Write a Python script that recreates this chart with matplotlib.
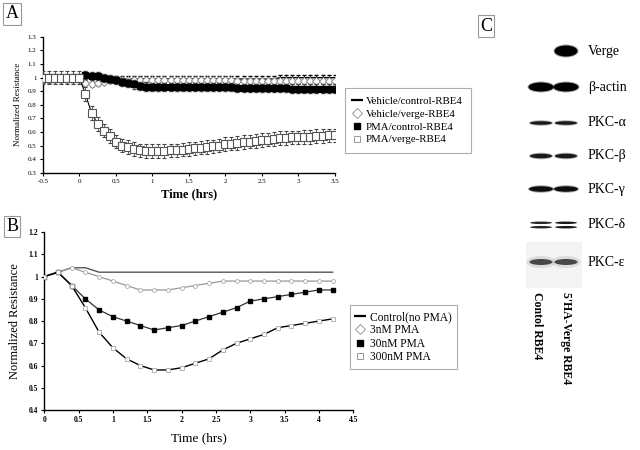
import numpy as np
import matplotlib.pyplot as plt
from matplotlib.lines import Line2D
from matplotlib.patches import Ellipse, Rectangle

plt.rcParams['font.family'] = ['Liberation Serif', 'DejaVu Serif']

# ---- panel A: TEER time course (5 min steps, -0.5 .. 3.5 h)
tA = np.arange(-6, 43) / 12.0
veh_ctrl = [1.00, 1.00, 1.00, 1.00, 1.00, 1.00, 1.00,
            1.00, 0.99, 0.99, 0.99, 0.99, 0.99, 0.99, 0.99, 0.99, 0.99,
            0.99, 0.99, 0.99, 0.99, 0.99, 0.99, 0.99, 0.99, 0.99, 0.99,
            0.99, 0.99, 0.99, 0.99, 0.99, 0.99, 0.99, 0.99, 0.99, 0.99,
            0.99, 0.99, 1.00, 1.00, 1.00, 1.00, 1.00, 1.00, 1.00, 1.00,
            1.00, 1.00]
veh_verge = [0.98, 0.98, 0.99, 0.99, 0.99, 0.99, 0.99,
             0.96, 0.95, 0.96, 0.97, 0.98, 0.98, 0.98, 0.98, 0.98, 0.98,
             0.98, 0.98, 0.98, 0.98, 0.98, 0.98, 0.98, 0.98, 0.98, 0.98,
             0.98, 0.98, 0.98, 0.98, 0.98, 0.975, 0.975, 0.975, 0.975, 0.975,
             0.975, 0.975, 0.975, 0.975, 0.975, 0.975, 0.975, 0.975, 0.975, 0.975,
             0.975, 0.975]
pma_ctrl = [1.00, 1.00, 1.00, 1.00, 1.00, 1.00, 1.00,
            1.02, 1.015, 1.01, 1.00, 0.99, 0.98, 0.97, 0.96, 0.95, 0.94,
            0.935, 0.93, 0.93, 0.93, 0.93, 0.93, 0.93, 0.93, 0.93, 0.93,
            0.93, 0.93, 0.93, 0.93, 0.93, 0.925, 0.925, 0.925, 0.925, 0.925,
            0.925, 0.925, 0.925, 0.925, 0.92, 0.92, 0.92, 0.92, 0.92, 0.92,
            0.92, 0.92]
pma_verge = [1.00, 1.00, 1.00, 1.00, 1.00, 1.00, 1.00,
             0.88, 0.74, 0.66, 0.61, 0.57, 0.53, 0.50, 0.49, 0.475, 0.465,
             0.46, 0.46, 0.46, 0.46, 0.465, 0.465, 0.47, 0.475, 0.48, 0.485,
             0.49, 0.495, 0.50, 0.51, 0.515, 0.52, 0.525, 0.53, 0.535, 0.54,
             0.545, 0.55, 0.555, 0.555, 0.56, 0.56, 0.565, 0.565, 0.57, 0.57,
             0.575, 0.575]
err_veh_ctrl = 0.02
err_veh_verge = 0.02
err_pma_ctrl = 0.03
err_pma_verge = 0.05

# ---- panel B: PMA dose response (0 .. 4.2 h)
tB = [0, 0.2, 0.4, 0.6, 0.8, 1.0, 1.2, 1.4, 1.6, 1.8, 2.0,
      2.2, 2.4, 2.6, 2.8, 3.0, 3.2, 3.4, 3.6, 3.8, 4.0, 4.2]
no_pma = [1.00, 1.02, 1.04, 1.04, 1.02, 1.02, 1.02, 1.02, 1.02, 1.02, 1.02,
          1.02, 1.02, 1.02, 1.02, 1.02, 1.02, 1.02, 1.02, 1.02, 1.02, 1.02]
pma_3nm = [1.00, 1.02, 1.04, 1.02, 1.00, 0.98, 0.96, 0.94, 0.94, 0.94, 0.95,
           0.96, 0.97, 0.98, 0.98, 0.98, 0.98, 0.98, 0.98, 0.98, 0.98, 0.98]
pma_30nm = [1.00, 1.02, 0.96, 0.90, 0.85, 0.82, 0.80, 0.78, 0.76, 0.77, 0.78,
            0.80, 0.82, 0.84, 0.86, 0.89, 0.90, 0.91, 0.92, 0.93, 0.94, 0.94]
pma_300nm = [1.00, 1.02, 0.96, 0.86, 0.75, 0.68, 0.63, 0.60, 0.58, 0.58, 0.59,
             0.61, 0.63, 0.67, 0.70, 0.72, 0.74, 0.77, 0.78, 0.79, 0.80, 0.81]

# ---- panel C: western blot
blot_labels = ['Verge', 'β-actin', 'PKC-α', 'PKC-β', 'PKC-γ', 'PKC-δ', 'PKC-ε']
lane_ctrl = [0.0, 1.0, 0.9, 0.9, 0.95, 0.85, 0.75]
lane_verge = [1.0, 1.0, 0.9, 0.9, 0.95, 0.9, 0.75]
lane_names = ['Contol RBE4', "5'HA-Verge RBE4"]

fig = plt.figure(figsize=(6.4, 4.5), dpi=100)

def box_letter(x, y, s):
    fig.text(x, y, s, fontsize=13, ha='center', va='center',
             bbox=dict(boxstyle='square,pad=0.12', fc='white', ec='#999999', lw=0.8))

def style_axes(ax, size, bold=False):
    for s in ['top', 'right']:
        ax.spines[s].set_visible(False)
    for s in ['left', 'bottom']:
        ax.spines[s].set_linewidth(1.0)
    ax.tick_params(direction='out', length=2.5, width=0.8, labelsize=size, pad=2)
    if bold:
        for lab in ax.get_xticklabels() + ax.get_yticklabels():
            lab.set_fontweight('bold')

# Panel A
axA = fig.add_axes([0.067, 0.616, 0.456, 0.302])
axA.errorbar(tA, veh_ctrl, yerr=err_veh_ctrl, color='black', lw=1.0,
             elinewidth=0.6, capsize=1.5, zorder=2)
axA.errorbar(tA, veh_verge, yerr=err_veh_verge, color='#888888', lw=0.6, ls='none',
             marker='D', ms=4.5, mfc='white', mec='#888888', mew=0.7,
             elinewidth=0.6, ecolor='#777777', capsize=1.5, zorder=3)
axA.errorbar(tA, pma_ctrl, yerr=err_pma_ctrl, color='black', lw=0.8,
             marker='s', ms=4.5, mfc='black', mec='black',
             elinewidth=0.6, ecolor='#444444', capsize=1.5, zorder=4)
axA.errorbar(tA, pma_verge, yerr=err_pma_verge, color='black', lw=0.8,
             marker='s', ms=5.5, mfc='white', mec='#555555', mew=0.8,
             elinewidth=0.6, ecolor='#444444', capsize=1.5, zorder=4)
axA.set_xlim(-0.5, 3.5)
axA.set_ylim(0.3, 1.3)
axA.set_xticks(np.arange(-0.5, 3.51, 0.5))
axA.set_xticklabels(['-0.5', '0', '0.5', '1', '1.5', '2', '2.5', '3', '3.5'])
axA.set_yticks(np.arange(0.3, 1.31, 0.1))
axA.set_yticklabels(['0.3', '0.4', '0.5', '0.6', '0.7', '0.8', '0.9', '1', '1.1', '1.2', '1.3'])
style_axes(axA, 5)
axA.set_xlabel('Time (hrs)', fontsize=9, fontweight='bold', labelpad=3)
axA.set_ylabel('Normalized Resistance', fontsize=6.5, labelpad=4)

hA = [Line2D([], [], color='black', marker='_', ls='none', ms=8, mew=1.6),
      Line2D([], [], marker='D', ls='none', ms=5, mfc='white', mec='#999999', mew=0.7),
      Line2D([], [], marker='s', ls='none', ms=4.5, mfc='black', mec='black'),
      Line2D([], [], marker='s', ls='none', ms=5, mfc='white', mec='#999999', mew=0.7)]
legA = fig.legend(hA, ['Vehicle/control-RBE4', 'Vehicle/verge-RBE4',
                       'PMA/control-RBE4', 'PMA/verge-RBE4'],
                  loc='upper left', bbox_to_anchor=(0.539, 0.804), fontsize=7.8,
                  fancybox=False, edgecolor='#999999', handlelength=0.8,
                  handletextpad=0.4, borderpad=0.75, labelspacing=0.3,
                  borderaxespad=0)
legA.get_frame().set_linewidth(0.8)

# Panel B
axB = fig.add_axes([0.069, 0.089, 0.483, 0.395])
axB.plot(tB, no_pma, color='#555555', lw=1.0, zorder=2)
axB.plot(tB, pma_3nm, color='#999999', lw=0.9, marker='o', ms=2.8,
         mfc='white', mec='#aaaaaa', mew=0.6, zorder=3)
axB.plot(tB, pma_30nm, color='#333333', lw=0.9, marker='s', ms=3.2,
         mfc='black', mec='black', zorder=4)
axB.plot(tB, pma_300nm, color='black', lw=1.0, marker='s', ms=2.8,
         mfc='white', mec='#aaaaaa', mew=0.6, zorder=4)
axB.set_xlim(0, 4.5)
axB.set_ylim(0.4, 1.2)
axB.set_xticks(np.arange(0, 4.51, 0.5))
axB.set_xticklabels(['0', '0.5', '1', '1.5', '2', '2.5', '3', '3.5', '4', '4.5'])
axB.set_yticks(np.arange(0.4, 1.21, 0.1))
axB.set_yticklabels(['0.4', '0.5', '0.6', '0.7', '0.8', '0.9', '1', '1.1', '1.2'])
style_axes(axB, 5.5, bold=True)
axB.set_xlabel('Time (hrs)', fontsize=9.5, labelpad=6)
axB.set_ylabel('Normalized Resistance', fontsize=9, labelpad=5)

hB = [Line2D([], [], color='black', marker='_', ls='none', ms=8, mew=1.6),
      Line2D([], [], marker='D', ls='none', ms=5, mfc='white', mec='#999999', mew=0.7),
      Line2D([], [], marker='s', ls='none', ms=4.5, mfc='black', mec='black'),
      Line2D([], [], marker='s', ls='none', ms=5, mfc='white', mec='#999999', mew=0.7)]
legB = fig.legend(hB, ['Control(no PMA)', '3nM PMA', '30nM PMA', '300nM PMA'],
                  loc='upper left', bbox_to_anchor=(0.547, 0.322), fontsize=8.3,
                  fancybox=False, edgecolor='#999999', handlelength=0.8,
                  handletextpad=0.4, borderpad=0.5, labelspacing=0.12,
                  borderaxespad=0)
legB.get_frame().set_linewidth(0.8)

# Panel C: blot drawn in pixel coordinates
axC = fig.add_axes([0.72, 0.0, 0.28, 1.0])
axC.set_xlim(460.8, 640)
axC.set_ylim(450, 0)
axC.axis('off')
rows = [51, 87, 123, 156, 189, 225, 262]
heights = [11, 9, 3.5, 4.5, 5.5, 2.5, 6]
widths = [23, 25, 22, 22, 24, 22, 23]
lane_x = [541, 566]
axC.add_patch(Rectangle((526, 242), 56, 46, color='#f4f4f4', lw=0, zorder=0))
for lane, vals in zip(lane_x, [lane_ctrl, lane_verge]):
    for i, v in enumerate(vals):
        if v <= 0:
            continue
        g = 1 - v
        if blot_labels[i] == 'PKC-δ':
            for dy in (-2.2, 2.2):
                axC.add_patch(Ellipse((lane, rows[i] + dy), widths[i], heights[i],
                                      color=(g, g, g), lw=0, zorder=2))
            continue
        if blot_labels[i] == 'PKC-ε':
            axC.add_patch(Ellipse((lane, rows[i]), widths[i] + 6, heights[i] + 6,
                                  color='#cccccc', alpha=0.6, lw=0, zorder=1))
            axC.add_patch(Ellipse((lane, rows[i]), widths[i], heights[i],
                                  color='#222222', alpha=0.8, lw=0, zorder=2))
            continue
        axC.add_patch(Ellipse((lane, rows[i]), widths[i] + 2, heights[i] + 2,
                              color=(g, g, g), alpha=0.35, lw=0, zorder=1))
        axC.add_patch(Ellipse((lane, rows[i]), widths[i], heights[i],
                              color=(g, g, g), lw=0, zorder=2))
for i, lab in enumerate(blot_labels):
    axC.text(588, rows[i], lab, fontsize=10, ha='left', va='center')
for lane, name in zip([537, 566], lane_names):
    axC.text(lane, 292, name, rotation=270, ha='center', va='top',
             fontsize=8.5, fontweight='bold')

box_letter(0.019, 0.969, 'A')
box_letter(0.019, 0.496, 'B')
box_letter(0.759, 0.942, 'C')

fig.savefig('out.png', dpi=100)
